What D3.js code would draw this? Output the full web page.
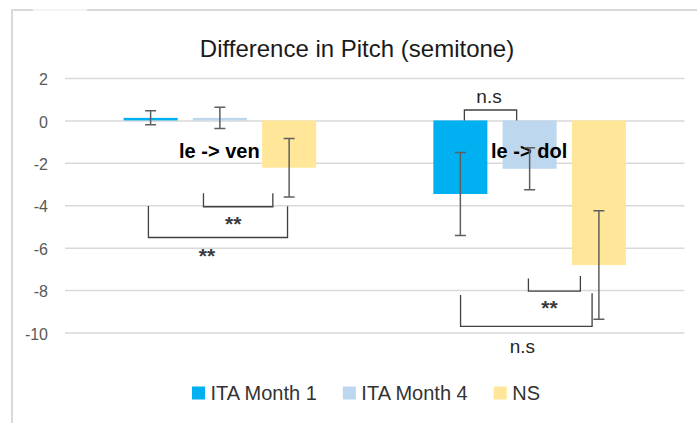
<!DOCTYPE html>
<html>
<head>
<meta charset="utf-8">
<script src="https://cdn.jsdelivr.net/npm/d3@7/dist/d3.min.js"></script>
<style>
	body { margin: 0; background: #fff; }
	svg { display: block; font-family: "Liberation Sans", Arial, sans-serif; }
	.grid line { stroke: #d9d9d9; stroke-width: 1.5; }
	.grid text { fill: #595959; font-size: 16px; }
</style>
</head>
<body>
<div id="chart"></div>
<script>

// chart data
var title = "Difference in Pitch (semitone)";
var groups = ["le -> ven", "le -> dol"];
var seriesNames = ["ITA Month 1", "ITA Month 4", "NS"];
var seriesColors = ["#00b0f0", "#bdd7ee", "#ffe699"];
var month1Values = [0.12, -3.47];
var month1Errors = [0.33, 1.96];
var month4Values = [0.12, -2.28];
var month4Errors = [0.5, 0.99];
var nsValues = [-2.23, -6.82];
var nsErrors = [1.38, 2.56];
var yTicks = [2, 0, -2, -4, -6, -8, -10];

// significance brackets: group index, series from / to, label
var brackets = [
	{group: 1, from: 0, to: 1, label: "n.s"},
	{group: 0, from: 1, to: 2, label: "**"},
	{group: 0, from: 0, to: 2, label: "**"},
	{group: 1, from: 1, to: 2, label: "**"},
	{group: 1, from: 0, to: 2, label: "n.s"}
];

var Chart = function() {

	var width = 697,
		height = 423,
		plot = {left: 65, right: 684.5, top: 78, bottom: 332.5},
		x0, x1, y, svg;

	// hand placed bracket geometry (pixel offsets from bar centres, y in data units)
	var bracketLayout = [
		{dx1: 4, dx2: -13, leg1: 0, leg2: 0, bar: 0.49, labelDx: -1.5, labelY: 0.81},
		{dx1: -16.4, dx2: -16.3, leg1: -3.44, leg2: -3.44, bar: -4.07, labelDx: -5, labelY: -5.17},
		{dx1: -2.2, dx2: -1.6, leg1: -4.04, leg2: -4.05, bar: -5.52, labelDx: -11, labelY: -6.67},
		{dx1: -1.2, dx2: -18.5, leg1: -7.45, leg2: -7.34, bar: -8.05, labelDx: -5, labelY: -9.12},
		{dx1: 0.2, dx2: -6.8, leg1: -8.23, leg2: -8.15, bar: -9.71, labelDx: -4, labelY: -10.99}
	];

	var buildRows = function() {
		var values = [month1Values, month4Values, nsValues],
			errors = [month1Errors, month4Errors, nsErrors],
			rows = [];

		groups.forEach(function(g, gi) {
			seriesNames.forEach(function(s, si) {
				rows.push({group: g, series: s, si: si, value: values[si][gi], err: errors[si][gi]});
			});
		});
		return rows;
	}

	var barCenter = function(g, s) {
		return x0(g) + x1(s) + x1.bandwidth() / 2;
	}

	var render = function() {
		var rows = buildRows(), legend, lx;

		svg = d3.select("#chart").append("svg")
		.attr("width", width)
		.attr("height", height);

		// outer frame of the slide object
		svg.append("path")
		.attr("d", "M12," + height + "V10H33M87,10H" + width)
		.attr("fill", "none")
		.attr("stroke", "#d9d9d9")
		.attr("stroke-width", 2);
		svg.append("path")
		.attr("d", "M33,10H87")
		.attr("stroke", "#f4f4f4")
		.attr("stroke-width", 2);

		// scales
		x0 = d3.scaleBand().domain(groups).range([plot.left, plot.right]);
		x1 = d3.scaleBand().domain(seriesNames).range([0, x0.bandwidth()])
		.paddingInner(0.22).paddingOuter(0.846);
		y = d3.scaleLinear().domain([-10, 2]).range([plot.bottom, plot.top]);

		// title
		svg.append("text")
		.attr("x", 357)
		.attr("y", 56.5)
		.attr("text-anchor", "middle")
		.attr("font-size", 24)
		.attr("fill", "#1a1a1a")
		.text(title);

		// y axis with gridlines (plain hyphen for negatives, like Excel)
		var grid = svg.append("g")
		.attr("class", "grid")
		.attr("transform", "translate(" + plot.left + ",0)")
		.call(d3.axisLeft(y)
			.tickValues(yTicks)
			.tickSize(-(plot.right - plot.left))
			.tickPadding(17)
			.tickFormat(function(d) { return String(d); }));
		grid.select(".domain").remove();
		grid.selectAll("text").attr("dy", "0.42em");

		// bars
		svg.append("g").selectAll("rect")
		.data(rows)
		.enter()
		.append("rect")
		.attr("x", function(d) { return x0(d.group) + x1(d.series); })
		.attr("y", function(d) { return y(Math.max(0, d.value)); })
		.attr("width", x1.bandwidth())
		.attr("height", function(d) { return Math.abs(y(d.value) - y(0)); })
		.attr("fill", function(d) { return seriesColors[d.si]; });

		// group labels
		svg.append("g").selectAll("text")
		.data(groups)
		.enter()
		.append("text")
		.attr("x", function(d) { return x0(d) + x0.bandwidth() / 2 - 0.5; })
		.attr("y", y(-1.77))
		.attr("text-anchor", "middle")
		.attr("font-size", 20)
		.attr("font-weight", "bold")
		.attr("fill", "#000")
		.text(function(d) { return d; });

		// error bars
		svg.append("g")
		.attr("stroke", "#5f5f5f")
		.attr("stroke-width", 1.5)
		.attr("fill", "none")
		.selectAll("path")
		.data(rows)
		.enter()
		.append("path")
		.attr("d", function(d) {
			var cx = barCenter(d.group, d.series),
				y1 = y(d.value + d.err),
				y2 = y(d.value - d.err);
			return "M" + (cx - 5.5) + "," + y1 + "H" + (cx + 5.5) +
				"M" + cx + "," + y1 + "V" + y2 +
				"M" + (cx - 5.5) + "," + y2 + "H" + (cx + 5.5);
		});

		// significance brackets
		var br = svg.append("g");
		brackets.forEach(function(b, i) {
			var l = bracketLayout[i],
				g = groups[b.group],
				xa = barCenter(g, seriesNames[b.from]) + l.dx1,
				xb = barCenter(g, seriesNames[b.to]) + l.dx2,
				stars = b.label === "**";

			br.append("path")
			.attr("d", "M" + xa + "," + y(l.leg1) + "V" + y(l.bar) + "H" + xb + "V" + y(l.leg2))
			.attr("fill", "none")
			.attr("stroke", "#404040")
			.attr("stroke-width", 1.3);

			br.append("text")
			.attr("x", (xa + xb) / 2 + l.labelDx)
			.attr("y", y(l.labelY) + (stars ? 1 : 0))
			.attr("text-anchor", "middle")
			.attr("font-size", stars ? 21 : 19)
			.attr("font-weight", stars ? "bold" : "normal")
			.attr("fill", stars ? "#3a3a3a" : "#262626")
			.text(b.label);
		});

		// legend
		legend = svg.append("g");
		lx = 0;
		seriesNames.forEach(function(s, i) {
			var item = legend.append("g").attr("transform", "translate(" + lx + ",0)");
			item.append("rect")
			.attr("x", 0)
			.attr("y", 386.5)
			.attr("width", 13)
			.attr("height", 13)
			.attr("fill", seriesColors[i]);
			var t = item.append("text")
			.attr("x", 18.5)
			.attr("y", 400)
			.attr("font-size", 20)
			.attr("fill", "#333")
			.text(s);
			lx += 18.5 + t.node().getComputedTextLength() + 26;
		});
		lx -= 26;
		legend.attr("transform", "translate(" + (366 - lx / 2) + ",0)");
	}

	return {
		render: render
	}
};

Chart().render();

</script>
</body>
</html>
